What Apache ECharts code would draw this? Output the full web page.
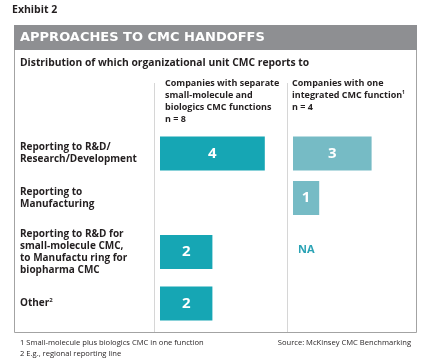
<!DOCTYPE html>
<html><head><meta charset="utf-8">
<script src="https://cdn.jsdelivr.net/npm/echarts@6/dist/echarts.min.js"></script>
<style>html,body{margin:0;padding:0;background:#fff}#c{width:425px;height:364px}</style>
</head><body><div id="c"></div>
<script>
const rowLabels = [
  'Reporting to R&D/\nResearch/Development',
  'Reporting to\nManufacturing',
  'Reporting to R&D for\nsmall-molecule CMC,\nto Manufactu ring for\nbiopharma CMC',
  'Other'
];
const rowLabelSup = ['', '', '', '2'];
const separateValues = [4, null, 2, 2];     // n = 8
const integratedValues = [3, 1, 'NA', null]; // n = 4
const colHeaders = [
  ['Companies with separate', 'small-molecule and', 'biologics CMC functions', 'n = 8'],
  ['Companies with one', 'integrated CMC function', 'n = 4']
];
const footnotes = ['1 Small-molecule plus biologics CMC in one function', '2 E.g., regional reporting line'];
const source = 'Source: McKinsey CMC Benchmarking';
const title = 'APPROACHES TO CMC HANDOFFS';
const subtitle = 'Distribution of which organizational unit CMC reports to';
const exhibit = 'Exhibit 2';

const FONT = 'Open Sans';
const TXT = '#231f20';
const colLeft = [160, 293];
const colColor = ['#16a6b4', '#76bbc5'];
const rowTop = [136.5, 181, 235, 286.5];
const barH = 34;
const unit = 26.2;
const xMax = 5;

const grids = [], xAxes = [], yAxes = [], series = [];
const colData = [separateValues, integratedValues];
let gi = 0;
const graphics = [];
for (let r = 0; r < rowLabels.length; r++) {
  for (let c = 0; c < 2; c++) {
    grids.push({left: colLeft[c], top: rowTop[r], width: unit * xMax, height: barH, containLabel: false});
    xAxes.push({type: 'value', gridIndex: gi, min: 0, max: xMax, show: false});
    yAxes.push({
      type: 'category', gridIndex: gi, data: [rowLabels[r]],
      axisLine: {show: false}, axisTick: {show: false}, splitLine: {show: false},
      axisLabel: {
        show: c === 0, align: 'left', margin: colLeft[0] - 20,
        formatter: (v) => {
          const lines = v.split('\n').map(s => '{b|' + s + '}');
          if (rowLabelSup[r]) lines[lines.length - 1] += '{s|' + rowLabelSup[r] + '}';
          return lines.join('\n');
        },
        rich: {
          b: {fontFamily: FONT, fontWeight: 'bold', fontSize: 10, color: TXT, lineHeight: 12},
          s: {fontFamily: FONT, fontWeight: 'bold', fontSize: 6, color: TXT, lineHeight: 12, verticalAlign: 'top', padding: [0, 0, 4, 0]}
        }
      }
    });
    const v = colData[c][r];
    if (typeof v === 'number') {
      series.push({
        type: 'bar', xAxisIndex: gi, yAxisIndex: gi, data: [v], barWidth: barH,
        itemStyle: {color: colColor[c]}, silent: true, animation: false,
        label: {show: true, position: 'inside', color: '#fff', fontFamily: FONT, fontWeight: 'bold', fontSize: 15}
      });
    } else if (v === 'NA') {
      graphics.push({type: 'text', left: colLeft[c] + 5, top: rowTop[r] + barH / 2 - 8,
        style: {text: 'NA', fill: '#2aa3b5', font: 'bold 11px "' + FONT + '"'}});
    }
    gi++;
  }
}

// frame
graphics.push(
  {type: 'text', left: 12, top: 5, style: {text: exhibit, fill: TXT, font: 'bold 10.5px "' + FONT + '"'}},
  {type: 'rect', shape: {x: 14, y: 25, width: 403, height: 25}, style: {fill: '#8e8f92'}},
  {type: 'text', left: 20, top: 31, style: {text: title, fill: '#fff', font: 'bold 13px "DejaVu Sans"'}},
  {type: 'polyline', shape: {points: [[14.5, 50], [14.5, 332.5], [416.5, 332.5], [416.5, 50]]}, style: {stroke: '#a3a3a3', lineWidth: 1, fill: null}},
  {type: 'line', shape: {x1: 154.5, y1: 83, x2: 154.5, y2: 332}, style: {stroke: '#d6d6d6', lineWidth: 1}},
  {type: 'line', shape: {x1: 287.5, y1: 83, x2: 287.5, y2: 332}, style: {stroke: '#d6d6d6', lineWidth: 1}},
  {type: 'text', left: 20, top: 58, style: {text: subtitle, fill: TXT, font: 'bold 10.3px "' + FONT + '"'}}
);
const hdrLeft = [165, 292];
colHeaders.forEach((lines, c) => {
  lines.forEach((ln, i) => {
    graphics.push({type: 'text', left: hdrLeft[c], top: 79 + i * 12,
      style: {text: ln, fill: TXT, font: 'bold 9px "' + FONT + '"'}});
  });
});
graphics.push({type: 'text', left: 402, top: 90, style: {text: '1', fill: TXT, font: 'bold 5px "' + FONT + '"'}});
footnotes.forEach((f, i) => {
  graphics.push({type: 'text', left: 20, top: 339 + i * 11, style: {text: f, fill: TXT, font: '7.6px "' + FONT + '"'}});
});
graphics.push({type: 'text', right: 14, top: 339, style: {text: source, fill: TXT, font: '7.6px "' + FONT + '"'}});

const chart = echarts.init(document.getElementById('c'), null, {renderer: 'canvas'});
chart.setOption({
  animation: false,
  grid: grids, xAxis: xAxes, yAxis: yAxes, series: series,
  graphic: graphics
});
</script></body></html>
